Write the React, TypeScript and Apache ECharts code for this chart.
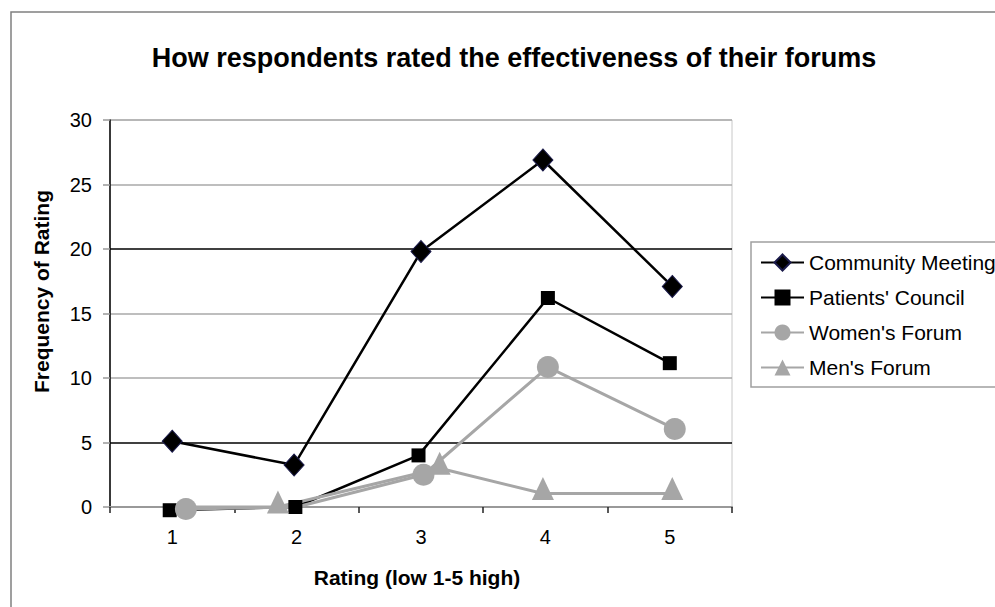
import React, { useEffect, useRef } from "react";
import * as echarts from "echarts";

const ratingLabels = ["1", "2", "3", "4", "5"];
const seriesNames = ["Community Meeting", "Patients' Council", "Women's Forum", "Men's Forum"];
// [rating position (slightly jittered as plotted), frequency]
const communityMeeting = [[1.0, 5.1], [1.98, 3.25], [3.0, 19.8], [3.98, 26.9], [5.02, 17.1]];
const patientsCouncil = [[0.98, -0.25], [1.99, 0], [2.98, 4.0], [4.02, 16.2], [5.0, 11.15]];
const womensForum = [[1.11, -0.15], [2.0, 0], [3.02, 2.5], [4.02, 10.85], [5.04, 6.05]];
const mensForum = [[1.1, 0], [1.85, 0], [3.15, 3.0], [3.98, 1.05], [5.02, 1.05]];
// points whose marker is not visible in the original
const womensHiddenMarkers = [1];
const mensHiddenMarkers = [0];

const FONT = "'Liberation Sans', Arial, Helvetica, sans-serif";
const GRAY = "#a6a6a6";

export default function App() {
  const ref = useRef<HTMLDivElement>(null);
  useEffect(() => {
    const chart = echarts.init(ref.current!, null, { renderer: "svg" });
    const mk = (name: string, data: number[][], color: string, symbol: string, size: any, width: number, hidden: number[], extra: any = {}) => ({
      name,
      type: "line",
      xAxisIndex: 1,
      data: data.map((d, i) => (hidden.includes(i) ? { value: d, symbol: "none" } : d)),
      clip: false,
      symbol,
      symbolSize: size,
      lineStyle: { color, width },
      itemStyle: { color, borderColor: color, borderWidth: 0 },
      ...extra,
    });
    chart.setOption({
      animation: false,
      backgroundColor: "#fff",
      textStyle: { fontFamily: FONT },
      title: {
        text: "How respondents rated the effectiveness of their forums",
        left: 509,
        top: 39,
        textAlign: "center",
        textStyle: { fontFamily: FONT, fontSize: 27, fontWeight: "bold", color: "#000" },
      },
      graphic: [
        {
          type: "rect",
          shape: { x: 11, y: 12, width: 1010, height: 640 },
          style: { fill: "none", stroke: "#808080", lineWidth: 1.5 },
          silent: true,
          z: -10,
        },
      ],
      legend: {
        orient: "vertical",
        left: 751,
        top: 242,
        padding: [10, 40, 9, 9],
        itemWidth: 43,
        itemHeight: 20,
        itemGap: 14,
        backgroundColor: "#fff",
        borderColor: "#a0a0a0",
        borderWidth: 1.5,
        borderRadius: 0,
        textStyle: { fontFamily: FONT, fontSize: 21, color: "#000" },
        data: seriesNames,
      },
      grid: {
        left: 110,
        right: 263,
        top: 120,
        bottom: 100,
        show: true,
        borderColor: "#c8c8c8",
        borderWidth: 1,
        backgroundColor: "#fff",
      },
      xAxis: [
        {
          type: "category",
          data: ratingLabels,
          boundaryGap: true,
          name: "Rating (low 1-5 high)",
          nameLocation: "middle",
          nameGap: 60,
          nameTextStyle: { fontFamily: FONT, fontSize: 21, fontWeight: "bold", color: "#000", padding: [0, 8, 0, 0] },
          axisLine: { lineStyle: { color: "#999", width: 2 } },
          axisTick: { show: true, length: 6, inside: false, lineStyle: { color: "#222", width: 1.5 } },
          axisLabel: { margin: 20, fontFamily: FONT, fontSize: 20, color: "#000" },
          splitLine: { show: false },
        },
        {
          type: "value",
          min: 0.5,
          max: 5.5,
          show: false,
          splitLine: { show: false },
        },
      ],
      yAxis: {
        type: "value",
        min: 0,
        max: 30,
        interval: 5,
        name: "Frequency of Rating",
        nameLocation: "middle",
        nameGap: 58,
        nameTextStyle: { fontFamily: FONT, fontSize: 21, fontWeight: "bold", color: "#000", padding: [0, 0, 0, 44] },
        axisLine: { show: true, lineStyle: { color: "#000", width: 1.5 } },
        axisTick: { show: true, length: 7, lineStyle: { color: "#999", width: 1.5 } },
        axisLabel: { margin: 18, fontFamily: FONT, fontSize: 20, color: "#000" },
        splitLine: { show: true, lineStyle: { color: ["#a8a8a8", "#000", "#a8a8a8"], width: 1.5 } },
      },
      series: [
        mk(seriesNames[0], communityMeeting, "#000", "diamond", [20, 22], 2.5, [], {
          itemStyle: { color: "#000", borderColor: "#1a1a4a", borderWidth: 1 },
        }),
        mk(seriesNames[1], patientsCouncil, "#000", "rect", 14, 2.5, []),
        mk(seriesNames[2], womensForum, GRAY, "circle", 22, 3, womensHiddenMarkers),
        mk(seriesNames[3], mensForum, GRAY, "triangle", [22, 23], 3, mensHiddenMarkers, { symbolOffset: [0, -5] }),
      ],
    });
    return () => chart.dispose();
  }, []);
  return <div ref={ref} style={{ width: 995, height: 607, position: "absolute", left: 0, top: 0 }} />;
}
